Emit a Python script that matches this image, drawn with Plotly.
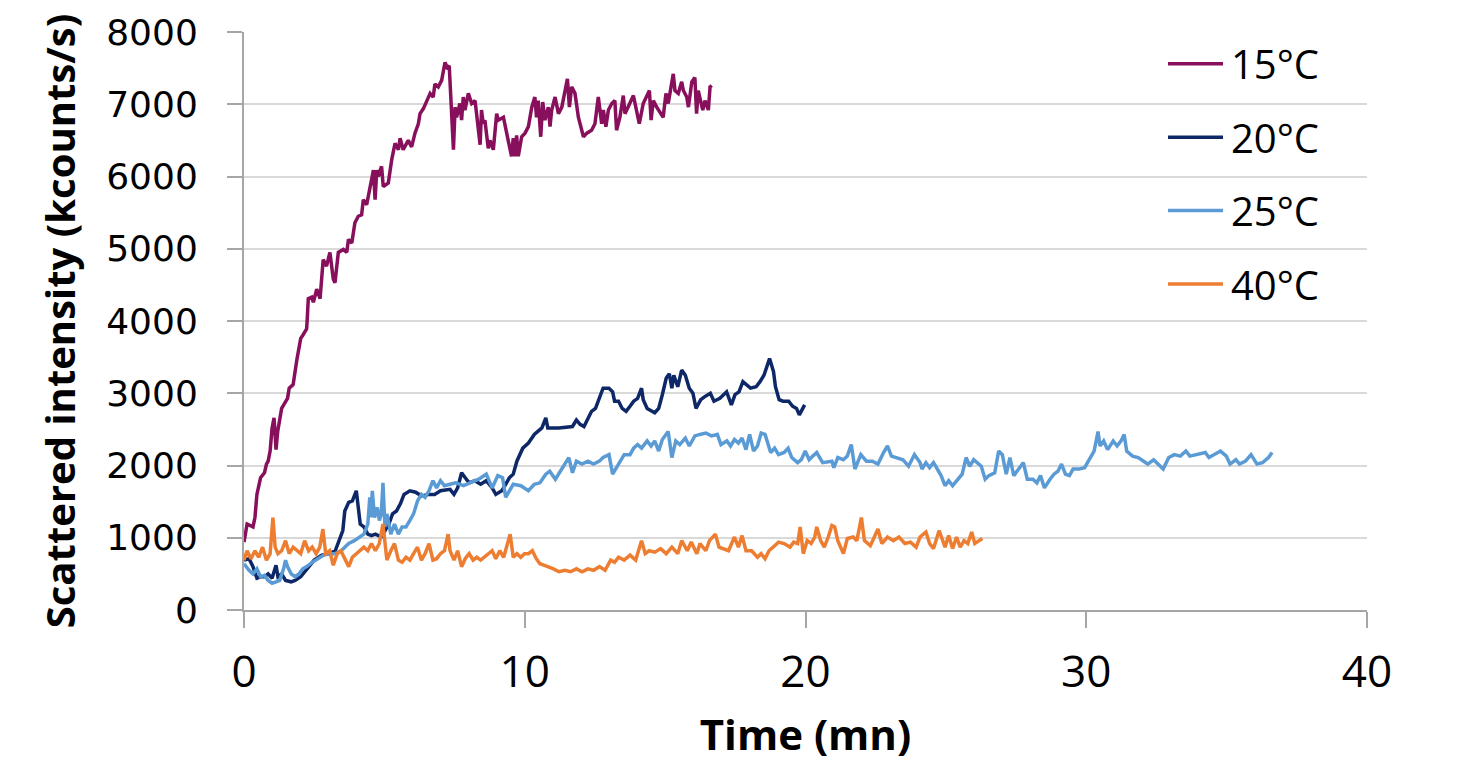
import plotly.graph_objects as go

# ---- measured series: time (min) vs scattered intensity (kcounts/s) ----
t15 = [0.00, 0.11, 0.32, 0.39, 0.46, 0.59, 0.73, 0.80, 0.86, 0.93, 1.00, 1.07, 1.14, 1.20, 1.34, 1.41,
       1.55, 1.61, 1.75, 1.89, 2.02, 2.09, 2.23, 2.25, 2.29, 2.41, 2.47, 2.59, 2.71, 2.82, 2.94, 3.06,
       3.18, 3.24, 3.36, 3.54, 3.66, 3.72, 3.84, 3.95, 4.07, 4.19, 4.25, 4.37, 4.49, 4.61, 4.67, 4.73,
       4.78, 4.90, 4.96, 5.14, 5.26, 5.38, 5.50, 5.56, 5.67, 5.85, 5.97, 6.09, 6.21, 6.27, 6.39, 6.51,
       6.63, 6.74, 6.80, 6.92, 7.04, 7.16, 7.24, 7.31, 7.40, 7.46, 7.52, 7.57, 7.69, 7.75, 7.81, 7.87,
       7.99, 8.11, 8.23, 8.29, 8.41, 8.46, 8.52, 8.58, 8.70, 8.76, 8.88, 9.00, 9.06, 9.24, 9.30, 9.41,
       9.53, 9.59, 9.65, 9.71, 9.77, 9.89, 10.01, 10.13, 10.25, 10.36, 10.42, 10.48, 10.57, 10.64, 10.72,
       10.84, 10.90, 10.96, 11.08, 11.20, 11.32, 11.43, 11.52, 11.59, 11.67, 11.79, 11.91, 12.09, 12.21,
       12.38, 12.50, 12.62, 12.74, 12.80, 12.89, 12.98, 13.10, 13.21, 13.27, 13.39, 13.51, 13.57, 13.69,
       13.87, 14.08, 14.22, 14.44, 14.50, 14.58, 14.70, 14.93, 15.03, 15.11, 15.29, 15.35, 15.47, 15.59,
       15.65, 15.77, 15.83, 15.95, 16.06, 16.12, 16.18, 16.34, 16.42, 16.54, 16.60, 16.66]
v15 = [940, 1190, 1150, 1280, 1600, 1830, 1900, 2020, 2060, 2200, 2520, 2660, 2220, 2470, 2790, 2840,
       2930, 3070, 3120, 3480, 3760, 3800, 3890, 4010, 4310, 4330, 4260, 4440, 4310, 4850, 4760, 4950,
       4580, 4530, 4950, 4990, 4950, 5130, 5080, 5360, 5450, 5470, 5680, 5610, 5860, 6090, 5680, 6090,
       6000, 6140, 5860, 5910, 6230, 6460, 6370, 6530, 6370, 6500, 6410, 6600, 6730, 6870, 6940, 7050,
       7150, 7100, 7280, 7240, 7330, 7580, 7510, 7530, 6870, 6370, 6960, 6820, 7010, 6780, 7100, 6920,
       7150, 7010, 7050, 6820, 6440, 6920, 6730, 6780, 6390, 6500, 6370, 6870, 6780, 6820, 6690, 6500,
       6280, 6530, 6280, 6570, 6280, 6550, 6600, 6690, 6960, 7100, 6820, 7050, 6550, 7030, 6780,
       6960, 6690, 6920, 7100, 6870, 6960, 7150, 7350, 6960, 7240, 7150, 6820, 6550, 6600,
       6640, 6730, 7100, 6730, 6920, 6690, 6920, 7010, 7050, 6640, 6820, 7120, 6870, 6960,
       7120, 6730, 7010, 7190, 6780, 7050, 6960, 6820, 7150, 7010, 7420, 7190, 7150, 7310,
       7190, 7100, 6960, 7310, 7370, 6870, 7190, 6920, 7050, 6920, 7240, 7260]

t20 = [0.00, 0.18, 0.32, 0.46, 0.59, 0.73, 0.86, 1.00, 1.14, 1.21, 1.34, 1.48, 1.68, 1.82, 2.02, 2.16,
       2.30, 2.50, 2.77, 3.05, 3.25, 3.39, 3.52, 3.59, 3.73, 3.86, 4.00, 4.07, 4.14, 4.27, 4.41, 4.54,
       4.68, 4.89, 5.02, 5.16, 5.29, 5.43, 5.57, 5.70, 5.91, 6.11, 6.32, 6.59, 6.79, 7.00, 7.34, 7.48,
       7.61, 7.75, 7.88, 8.02, 8.22, 8.43, 8.63, 8.84, 8.97, 9.18, 9.32, 9.45, 9.59, 9.72, 9.93, 10.13,
       10.34, 10.48, 10.61, 10.75, 10.82, 11.22, 11.70, 11.84, 11.97, 12.11, 12.25, 12.38, 12.52, 12.66,
       12.79, 13.00, 13.13, 13.20, 13.34, 13.47, 13.61, 13.75, 13.88, 14.02, 14.16, 14.22, 14.36, 14.63,
       14.77, 14.90, 15.04, 15.15, 15.24, 15.31, 15.45, 15.59, 15.72, 15.86, 15.99, 16.10, 16.27, 16.40,
       16.61, 16.74, 16.95, 17.19, 17.36, 17.49, 17.63, 17.77, 18.04, 18.24, 18.38, 18.52, 18.65, 18.72,
       18.79, 18.86, 18.93, 19.06, 19.20, 19.40, 19.54, 19.68, 19.78, 19.88, 19.97]
v20 = [690, 710, 600, 440, 460, 460, 500, 440, 620, 460, 500, 410, 390, 410, 460, 530,
       600, 690, 760, 780, 820, 960, 1100, 1370, 1490, 1510, 1650, 1420, 1190, 1150, 1050, 1030,
       1050, 1010, 1100, 1190, 1330, 1370, 1470, 1600, 1650, 1630, 1580, 1600, 1600, 1650, 1670, 1600,
       1690, 1900, 1830, 1760, 1790, 1740, 1790, 1690, 1600, 1650, 1740, 1830, 1880, 2060, 2240, 2310,
       2430, 2470, 2520, 2660, 2520, 2520, 2540, 2630, 2570, 2540, 2660, 2750, 2790, 2930,
       3070, 3070, 3020, 2890, 2890, 2790, 2750, 2820, 2890, 2930, 3070, 2910, 2790, 2730,
       2790, 2980, 3210, 3270, 3070, 3250, 3090, 3320, 3250, 3070, 3000, 2790, 2910, 2950,
       3000, 2890, 2930, 3020, 2840, 2980, 3020, 3160, 3070, 3090, 3160, 3250, 3390, 3480,
       3390, 3300, 3090, 2910, 2890, 2890, 2820, 2790, 2700, 2770, 2840]

t25 = [0.00, 0.18, 0.32, 0.46, 0.59, 0.73, 0.86, 1.00, 1.14, 1.27, 1.41, 1.48, 1.55, 1.68, 1.82, 1.96,
       2.09, 2.23, 2.43, 2.64, 2.84, 3.05, 3.25, 3.46, 3.59, 3.73, 3.93, 4.14, 4.27, 4.41, 4.48, 4.52,
       4.57, 4.65, 4.75, 4.82, 4.89, 4.95, 5.02, 5.09, 5.23, 5.36, 5.50, 5.63, 5.77, 5.91, 6.04, 6.18,
       6.32, 6.45, 6.59, 6.73, 6.86, 7.00, 7.14, 7.34, 7.54, 7.82, 8.09, 8.36, 8.63, 8.84, 9.04, 9.21,
       9.32, 9.45, 9.59, 9.86, 10.13, 10.34, 10.54, 10.75, 10.89, 11.09, 11.36, 11.57, 11.70, 11.84,
       12.04, 12.25, 12.45, 12.66, 12.79, 13.00, 13.13, 13.34, 13.47, 13.54, 13.75, 13.88, 14.02, 14.16,
       14.36, 14.50, 14.63, 14.77, 14.90, 15.11, 15.24, 15.38, 15.52, 15.72, 15.86, 16.06, 16.24, 16.45,
       16.65, 16.86, 16.99, 17.20, 17.33, 17.47, 17.61, 17.74, 17.88, 18.01, 18.15, 18.29, 18.42, 18.56,
       18.76, 18.90, 19.04, 19.24, 19.38, 19.51, 19.72, 19.85, 19.99, 20.13, 20.26, 20.40, 20.61, 20.94,
       21.01, 21.15, 21.35, 21.49, 21.63, 21.76, 21.97, 22.17, 22.38, 22.58, 22.78, 22.92, 23.06, 23.26,
       23.47, 23.67, 23.88, 24.08, 24.15, 24.29, 24.42, 24.56, 24.83, 24.97, 25.10, 25.24, 25.38, 25.58,
       25.72, 25.85, 25.99, 26.13, 26.26, 26.40, 26.53, 26.74, 26.88, 27.01, 27.15, 27.28, 27.42, 27.76,
       27.90, 28.10, 28.24, 28.37, 28.51, 28.71, 28.85, 28.99, 29.12, 29.26, 29.40, 29.53, 29.74, 29.94,
       30.15, 30.28, 30.42, 30.49, 30.62, 30.76, 30.96, 31.10, 31.24, 31.35, 31.44, 31.65, 31.85, 32.05,
       32.19, 32.40, 32.74, 32.94, 33.14, 33.35, 33.55, 33.69, 33.89, 34.24, 34.37, 34.58, 34.78, 34.99,
       35.12, 35.33, 35.46, 35.67, 35.87, 36.08, 36.28, 36.49, 36.62]
v25 = [640, 550, 500, 570, 460, 480, 410, 370, 390, 410, 570, 690, 600, 500, 460, 500,
       570, 600, 660, 710, 760, 780, 780, 820, 870, 920, 960, 1010, 1050, 1190, 1560, 1280,
       1650, 1280, 1420, 1240, 1330, 1760, 1150, 1330, 1050, 1190, 1050, 1150, 1150, 1240, 1330, 1510,
       1600, 1560, 1650, 1790, 1690, 1790, 1720, 1740, 1760, 1720, 1760, 1810, 1880, 1690, 1860, 1830,
       1560, 1650, 1740, 1720, 1650, 1740, 1760, 1880, 1920, 1810, 1970, 2110, 1900, 2060,
       2020, 2060, 2020, 2060, 2110, 2150, 1880, 2020, 2110, 2150, 2150, 2240, 2290, 2240,
       2340, 2270, 2340, 2200, 2360, 2470, 2110, 2340, 2290, 2380, 2270, 2410, 2430, 2450,
       2410, 2430, 2290, 2340, 2270, 2360, 2310, 2380, 2220, 2430, 2200, 2270, 2450, 2430,
       2180, 2240, 2150, 2180, 2240, 2110, 2040, 2080, 2200, 2080, 2130, 2180, 2040, 2060,
       1970, 2110, 2080, 2130, 2290, 1950, 2150, 2060, 2060, 2020, 2180, 2270, 2130, 2110,
       2080, 1990, 2150, 2040, 1950, 2040, 1970, 2040, 1860, 1720, 1790, 1720, 1790, 1880,
       2110, 1990, 2080, 2040, 1990, 1810, 1860, 1900, 2200, 2150, 1880, 2110, 1860, 2040,
       1810, 1810, 1760, 1860, 1690, 1810, 1880, 1920, 2020, 1880, 1860, 1950, 1950, 1970,
       2110, 2200, 2470, 2270, 2340, 2220, 2340, 2270, 2340, 2430, 2200, 2130, 2110, 2060,
       2020, 2080, 1950, 2110, 2150, 2130, 2200, 2130, 2150, 2180, 2110, 2150, 2200, 2130,
       2020, 2080, 2020, 2060, 2150, 2020, 2040, 2110, 2180]

t40 = [0.00, 0.11, 0.25, 0.39, 0.52, 0.66, 0.80, 0.93, 1.03, 1.11, 1.21, 1.34, 1.48, 1.61, 1.75, 1.89,
       2.02, 2.16, 2.30, 2.43, 2.57, 2.70, 2.81, 2.91, 3.05, 3.18, 3.32, 3.45, 3.59, 3.73, 3.86, 4.00,
       4.14, 4.27, 4.41, 4.54, 4.68, 4.82, 4.95, 5.09, 5.23, 5.36, 5.50, 5.63, 5.77, 5.91, 6.04, 6.18,
       6.32, 6.45, 6.59, 6.73, 6.86, 7.00, 7.14, 7.27, 7.34, 7.48, 7.61, 7.75, 7.88, 8.02, 8.16, 8.29,
       8.43, 8.57, 8.70, 8.84, 8.97, 9.11, 9.25, 9.38, 9.48, 9.59, 9.72, 9.86, 9.99, 10.13, 10.27, 10.41,
       10.54, 10.68, 10.82, 11.02, 11.22, 11.43, 11.63, 11.84, 12.04, 12.25, 12.45, 12.66, 12.86, 13.06,
       13.20, 13.34, 13.54, 13.75, 13.95, 14.16, 14.29, 14.43, 14.63, 14.84, 15.04, 15.24, 15.45, 15.59,
       15.79, 15.93, 16.13, 16.24, 16.45, 16.58, 16.79, 16.92, 17.26, 17.47, 17.61, 17.74, 17.88, 18.08,
       18.29, 18.42, 18.56, 18.70, 18.90, 19.04, 19.24, 19.45, 19.58, 19.72, 19.81, 19.92, 20.06, 20.20,
       20.33, 20.40, 20.54, 20.67, 20.81, 20.94, 21.04, 21.15, 21.35, 21.49, 21.70, 21.83, 21.99, 22.10,
       22.31, 22.44, 22.58, 22.72, 22.92, 23.13, 23.33, 23.54, 23.74, 23.94, 24.08, 24.29, 24.42, 24.56,
       24.76, 24.97, 25.10, 25.24, 25.38, 25.51, 25.65, 25.78, 25.92, 26.03, 26.19, 26.30]
v40 = [690, 820, 710, 820, 730, 870, 690, 780, 1280, 870, 780, 820, 960, 780, 870, 820,
       780, 960, 820, 870, 780, 870, 1120, 780, 820, 620, 780, 820, 710, 600, 730, 780,
       820, 870, 820, 920, 820, 920, 1190, 690, 820, 920, 690, 660, 730, 690, 780, 870,
       690, 780, 920, 690, 710, 780, 820, 1050, 820, 690, 820, 600, 710, 780, 690, 730,
       690, 730, 780, 820, 710, 820, 730, 920, 1050, 730, 780, 730, 780, 780, 820, 710,
       640, 620, 600, 570, 530, 550, 530, 570, 530, 570, 550, 600, 550, 690,
       660, 730, 690, 760, 690, 960, 780, 820, 800, 850, 780, 870, 780, 960,
       820, 940, 780, 920, 820, 960, 1050, 870, 820, 1010, 870, 1030, 820, 820,
       730, 780, 710, 820, 890, 940, 920, 870, 940, 920, 1150, 780, 960, 920,
       1010, 1150, 960, 870, 1010, 1170, 1150, 960, 780, 990, 1010, 960, 1280, 960,
       890, 1010, 1120, 920, 1010, 960, 1010, 920, 940, 870, 1010, 1080, 920, 850,
       1100, 870, 1030, 850, 1010, 870, 960, 920, 1080, 920, 960, 990]

series = [
    ("15°C", t15, v15, "#870F5C"),
    ("20°C", t20, v20, "#0E2766"),
    ("25°C", t25, v25, "#5B9BD5"),
    ("40°C", t40, v40, "#ED7D31"),
]

fig = go.Figure()
for name, t, v, color in series:
    fig.add_trace(go.Scatter(x=t, y=v, mode="lines", name=name,
                             line=dict(color=color, width=3.5)))

# legend drawn as short line samples with labels at the upper right
legend_y = [0.945, 0.818, 0.691, 0.564]
for (name, _, _, color), ly in zip(series, legend_y):
    fig.add_shape(type="line", xref="paper", yref="paper",
                  x0=0.8228, x1=0.8718, y0=ly, y1=ly,
                  line=dict(color=color, width=3.5))
    fig.add_annotation(xref="paper", yref="paper", x=0.877, y=ly,
                       xanchor="left", yanchor="middle", text=name, showarrow=False,
                       font=dict(family="Open Sans", size=40, color="black"))

axis_grey = "#A6A6A6"
fig.update_layout(
    width=1473, height=782,
    margin=dict(l=244, r=106, t=27, b=172),
    plot_bgcolor="white", paper_bgcolor="white",
    showlegend=False,
    xaxis=dict(
        range=[0, 40], tickvals=[0, 10, 20, 30, 40],
        showgrid=False, zeroline=False,
        showline=True, linecolor=axis_grey, linewidth=2,
        ticks="outside", ticklen=16, tickwidth=1.5, tickcolor=axis_grey,
        ticklabelstandoff=6,
        tickfont=dict(family="Open Sans", size=44, color="black"),
        title=dict(text="Time (mn)", standoff=22,
                   font=dict(family="Open Sans", size=42, color="black", weight="bold")),
    ),
    yaxis=dict(
        range=[0, 8000], tickvals=[0, 1000, 2000, 3000, 4000, 5000, 6000, 7000, 8000],
        showgrid=True, gridcolor="#D9D9D9", gridwidth=1.5, zeroline=False,
        showline=True, linecolor=axis_grey, linewidth=2,
        ticks="outside", ticklen=15, tickwidth=1.5, tickcolor=axis_grey,
        ticklabelstandoff=22,
        tickfont=dict(family="DejaVu Sans", size=36, color="black"),
        title=dict(text="Scattered intensity (kcounts/s)", standoff=18,
                   font=dict(family="Open Sans", size=40, color="black", weight="bold")),
    ),
)

fig.write_html("out.html")
